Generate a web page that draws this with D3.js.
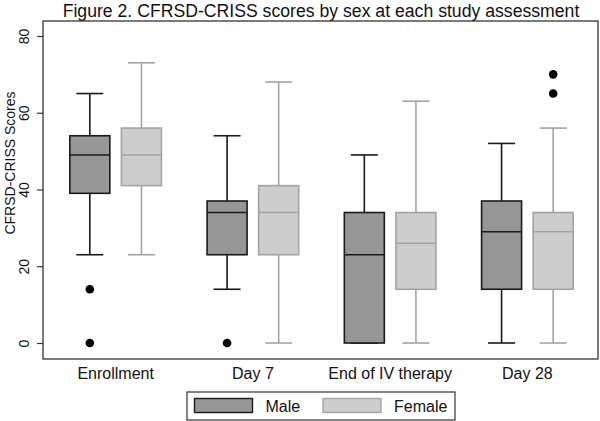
<!DOCTYPE html>
<html><head><meta charset="utf-8">
<script src="https://cdn.jsdelivr.net/npm/d3@7"></script>
<style>body{margin:0;background:#fff}svg{display:block;font-family:"Liberation Sans",Arial,Helvetica,sans-serif}</style>
</head><body><svg id="c" width="600" height="421"></svg>
<script>
const categories = ["Enrollment", "Day 7", "End of IV therapy", "Day 28"];
const sexes = ["Male", "Female"];
// [whiskerLow, q1, median, q3, whiskerHigh]
const maleStats = [[23,39,49,54,65],[14,23,34,37,54],[0,0,23,34,49],[0,14,29,37,52]];
const femaleStats = [[23,41,49,56,73],[0,23,34,41,68],[0,14,26,34,63],[0,14,29,34,56]];
const maleOutliers = [[14,0],[0],[],[]];
const femaleOutliers = [[],[],[],[70,65]];
const yTicks = [0,20,40,60,80];

const svg = d3.select("#c");
const L=43, R=598, T=21, B=359;
const y = d3.scaleLinear().domain([-4.17,83.9]).range([B,T]);
const x = d3.scaleBand().domain(categories).range([47,596]);
const xs = d3.scaleBand().domain(sexes).range([0,x.bandwidth()]).paddingInner(0.34).paddingOuter(0.5);
const style = {Male:{fill:"#969696",stroke:"#1a1a1a"},Female:{fill:"#cdcdcd",stroke:"#a3a3a3"}};
const boxW = 40, capW = 27;

svg.append("text").attr("x",321).attr("y",17).attr("text-anchor","middle")
  .attr("font-size",17.65).attr("fill","#111").text("Figure 2. CFRSD-CRISS scores by sex at each study assessment");

const data = [];
categories.forEach((c,i)=>{
  data.push({cat:c,sex:"Male",s:maleStats[i],o:maleOutliers[i]});
  data.push({cat:c,sex:"Female",s:femaleStats[i],o:femaleOutliers[i]});
});

const g = svg.append("g");
data.forEach(d=>{
  const cx = x(d.cat)+xs(d.sex)+xs.bandwidth()/2;
  const st = style[d.sex];
  const [lo,q1,md,q3,hi]=d.s;
  const gg = g.append("g").attr("stroke",st.stroke).attr("stroke-width",1.6);
  gg.append("line").attr("x1",cx).attr("x2",cx).attr("y1",y(hi)).attr("y2",y(q3));
  gg.append("line").attr("x1",cx).attr("x2",cx).attr("y1",y(q1)).attr("y2",y(lo));
  gg.append("line").attr("x1",cx-capW/2).attr("x2",cx+capW/2).attr("y1",y(hi)).attr("y2",y(hi));
  gg.append("line").attr("x1",cx-capW/2).attr("x2",cx+capW/2).attr("y1",y(lo)).attr("y2",y(lo));
  gg.append("rect").attr("x",cx-boxW/2).attr("width",boxW).attr("y",y(q3)).attr("height",y(q1)-y(q3)).attr("fill",st.fill);
  gg.append("line").attr("x1",cx-boxW/2).attr("x2",cx+boxW/2).attr("y1",y(md)).attr("y2",y(md));
  d.o.forEach(v=>{
    g.append("circle").attr("cx",cx).attr("cy",y(v)).attr("r",4.3).attr("fill","#000");
  });
});

// frame
svg.append("rect").attr("x",L).attr("y",T).attr("width",R-L).attr("height",B-T)
  .attr("fill","none").attr("stroke","#333").attr("stroke-width",1.3);

// y axis
const ya = svg.append("g").attr("transform",`translate(${L},0)`)
  .call(d3.axisLeft(y).tickValues(yTicks).tickSize(6).tickPadding(0));
ya.select(".domain").remove();
ya.selectAll(".tick line").attr("stroke","#333").attr("stroke-width",1.2);
ya.selectAll(".tick text").attr("font-size",14).attr("fill","#111").attr("font-family",null)
  .attr("text-anchor","middle").attr("transform","rotate(-90)").attr("x",0).attr("dy",null).attr("y",-14);

svg.append("text").attr("transform","translate(15,163) rotate(-90)").attr("text-anchor","middle")
  .attr("font-size",14).attr("fill","#111").text("CFRSD-CRISS Scores");

// x axis labels
const xa = svg.append("g").attr("transform",`translate(0,${B})`)
  .call(d3.axisBottom(x).tickSize(0).tickPadding(0));
xa.select(".domain").remove();
xa.selectAll(".tick text").attr("font-size",16).attr("fill","#111").attr("font-family",null).attr("dy",null).attr("y",20);

// legend
const lg = svg.append("g");
lg.append("rect").attr("x",187).attr("y",392).attr("width",268).attr("height",28).attr("fill","#fff").attr("stroke","#333").attr("stroke-width",1.2);
const legX = d3.scaleOrdinal().domain(sexes).range([194.5,323]);
sexes.forEach(s=>{
  lg.append("rect").attr("x",legX(s)).attr("y",398.5).attr("width",58).attr("height",14)
    .attr("fill",style[s].fill).attr("stroke",style[s].stroke).attr("stroke-width",1.4);
  lg.append("text").attr("x",legX(s)+71).attr("y",412).attr("font-size",16).attr("fill","#111").text(s);
});
</script></body></html>
